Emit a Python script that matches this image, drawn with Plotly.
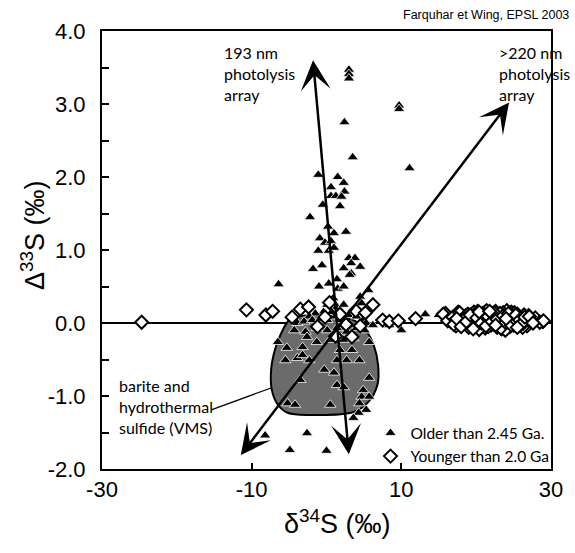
import plotly.graph_objects as go

# ---- sulfur isotope data (delta34S vs Delta33S, permil) ----
# Samples older than 2.45 Ga
OLDER_D34S = [
    3.0, 3.0, 3.0, 9.7, 9.7, 2.4, 11.1, 3.5,
    -1.1, 1.5, 0.6, 2.3, 2.4, 0.6, 1.25, 2.0, 1.8, -0.5, -2.2,
    0.2, 1.0, 2.6, -0.9, -0.2, 0.6, -1.1, 0.3, 1.0,
    3.0, 3.8, 3.3, -1.8, -0.6, 2.3, 4.5, 3.3,
    -6.4, -1.0, 0.3, 1.4, 1.5, 2.3, 3.1, 5.6, 4.5, 4.7, 0.9, 5.6,
    0.1, 1.4, 2.3, -0.4, 0.7, -1.5, -2.3, -3.9, -3.0, -1.9, -0.8, 0.1,
    1.2, 2.0, 2.9, 4.0, 4.9, 5.3, 6.2, -4.3, -2.8, -1.3, 0.1, 1.4,
    2.7, 4.0, 5.1, 5.7, -6.5, 0.5, 2.3, 3.6, -1.3, -2.6,
    -5.3, -3.2, -5.5, -3.9, -2.3, -3.2, -3.5, -0.3, 1.0, 1.4, 2.3,
    3.4, 1.8, 1.4, 2.7, 4.4, 5.7, 4.9, 4.7, 5.7, 4.4, 5.3, 4.3,
    -5.2, -4.2, 0.5,
    -8.2, -2.6, -4.9, 0.0, 3.6,
    8.4, 10.0, 13.2, 15.0, 18.1, 24.9,
    20.1, 21.3, 22.4, 23.2, 24.3, 25.3, 21.9, 23.8,
]
OLDER_CAP33S = [
    3.47, 3.41, 3.35, 2.98, 2.93, 2.75, 2.12, 2.27,
    2.03, 2.00, 1.86, 1.92, 1.80, 1.74, 1.74, 1.73, 1.60, 1.62, 1.45,
    1.32, 1.23, 1.25, 1.16, 1.10, 1.12, 0.99, 0.99, 1.03,
    0.89, 0.89, 0.82, 0.74, 0.79, 0.75, 0.77, 0.68,
    0.53, 0.50, 0.54, 0.60, 0.47, 0.50, 0.66, 0.45, 0.36, 0.27, 0.34, 0.22,
    0.25, 0.22, 0.25, 0.15, 0.15, 0.13, 0.09, 0.00, 0.02, 0.04, 0.06, 0.04,
    0.09, 0.04, 0.11, 0.09, 0.04, 0.00, -0.03, -0.10, -0.12, -0.07, -0.10, -0.07,
    -0.12, -0.07, -0.10, -0.26, -0.26, -0.23, -0.23, -0.21, -0.26, -0.19,
    -0.34, -0.33, -0.51, -0.48, -0.51, -0.44, -0.78, -0.64, -0.68, -0.85, -0.88,
    -0.37, -0.37, -0.51, -0.51, -0.51, -0.75, -0.92, -1.01, -1.01, -1.10, -1.19, -1.23,
    -1.10, -1.12, -1.12,
    -1.54, -1.51, -1.74, -1.75, -1.30,
    -0.03, -0.10, 0.12, 0.11, 0.13, -0.09,
    0.05, 0.08, 0.02, 0.10, 0.04, 0.07, -0.04, -0.02,
]

# Samples younger than 2.0 Ga
YOUNGER_D34S = [
    -24.7, -10.7, -8.1, -7.2, -3.5, -4.6, -2.4, -1.2, 0.4, 1.8, 2.6, 3.9,
    4.5, 5.2, 3.4, 1.2, -0.2, 6.2, 7.5, 8.4, 9.6, 11.9,
    15.9, 16.6, 17.6, 19.4, 19.8, 21.2, 24.7, 26.0, 27.3, 28.9,
    15.6, 16.2, 16.9, 17.3, 17.8, 18.2, 18.6, 19.0, 19.3, 19.7, 20.0, 20.3,
    20.6, 20.9, 21.2, 21.5, 21.8, 22.0, 22.3, 22.6, 22.9, 23.1, 23.4, 23.7,
    24.0, 24.2, 24.5, 24.8, 25.1, 25.4, 25.7, 26.0, 26.4, 26.8, 27.3, 27.9,
    28.5, 29.0,
    17.0, 18.9, 20.4, 21.0, 21.6, 22.2, 22.8, 23.3, 23.9, 24.4, 25.0, 25.6,
    26.2, 24.1, 21.4,
    19.1, 19.9, 20.8, 21.7, 22.5, 23.0, 23.6, 24.6, 25.2, 25.9, 26.6, 20.2,
    22.1, 23.5,
    19.5, 20.5, 21.1, 21.9, 22.7, 23.2, 23.8, 24.3, 25.5, 26.3, 18.4, 27.0,
    17.4, 18.0, 18.7, 19.2, 19.6, 20.1, 20.7, 21.0, 21.3, 21.6, 22.1, 22.4,
    22.8, 23.3, 23.6, 23.9, 24.3, 24.7, 25.0, 25.3, 25.8, 26.1, 26.5, 27.1,
    27.6, 20.4, 22.6, 24.0, 25.5, 21.8,
]
YOUNGER_CAP33S = [
    0.01, 0.18, 0.11, 0.16, 0.19, 0.08, 0.22, -0.05, 0.28, 0.12, -0.02, 0.17,
    -0.04, 0.14, -0.19, -0.18, 0.08, 0.25, 0.04, 0.02, 0.03, 0.06,
    0.13, 0.02, 0.15, -0.03, 0.13, 0.15, 0.15, 0.02, 0.04, 0.02,
    0.12, 0.03, 0.08, -0.04, 0.14, 0.01, 0.10, -0.06, 0.06, 0.15, -0.02, 0.09,
    0.04, 0.13, -0.07, 0.07, 0.11, -0.03, 0.05, 0.16, 0.00, 0.08, -0.08, 0.12,
    0.03, 0.10, -0.05, 0.06, 0.14, -0.01, 0.09, 0.02, 0.11, -0.04, 0.05, 0.07,
    0.01, 0.03,
    -0.02, 0.12, -0.09, 0.02, -0.05, 0.10, -0.06, 0.04, -0.10, 0.08, -0.03, 0.05,
    -0.06, 0.17, 0.17,
    0.07, 0.00, 0.11, 0.03, 0.09, -0.02, 0.14, 0.01, 0.10, -0.02, 0.08, 0.16,
    0.12, 0.05,
    0.04, 0.06, -0.01, 0.12, 0.03, 0.13, 0.01, 0.06, 0.12, 0.00, 0.05, 0.10,
    0.06, -0.05, 0.02, 0.11, -0.08, 0.07, 0.00, 0.12, -0.04, 0.09, 0.02, 0.14,
    0.05, -0.07, 0.10, 0.01, 0.13, -0.03, 0.07, 0.11, 0.04, -0.01, 0.08, 0.09,
    0.00, 0.15, -0.03, 0.06, -0.06, 0.16,
]

# Outline of the barite / hydrothermal sulfide (VMS) field
VMS_FIELD_X = [-4.9, -6.1, -6.9, -7.4, -7.3, -6.5, -5.2, -2.2, 3.6, 5.6, 6.8,
               6.9, 6.3, 5.1, 3.4, 0.0, -3.2, -4.9]
VMS_FIELD_Y = [0.05, -0.15, -0.37, -0.64, -0.92, -1.12, -1.23, -1.26, -1.22,
               -1.08, -0.85, -0.58, -0.30, -0.08, 0.05, 0.10, 0.10, 0.05]

# Photolysis arrays (start, end) and the label leader line
ARRAY_193_X = [3.0, -1.8]
ARRAY_193_Y = [-1.82, 3.60]
ARRAY_220_X = [-11.6, 24.4]
ARRAY_220_Y = [-1.83, 3.02]
VMS_LEADER_X = [-15.4, -7.4]
VMS_LEADER_Y = [-1.19, -0.89]

X_TICKS = [-30, -10, 10, 30]
X_TICK_TEXT = ["-30", "-10", "10", "30"]
Y_TICKS = [-2.0, -1.5, -1.0, -0.5, 0.0, 0.5, 1.0, 1.5, 2.0, 2.5, 3.0, 3.5, 4.0]
Y_TICK_TEXT = ["-2.0", "", "-1.0", "", "0.0", "", "1.0", "", "2.0", "", "3.0", "", "4.0"]

AXIS_FONT = "Liberation Sans, Arial, sans-serif"
LABEL_FONT = "Lato, Open Sans, sans-serif"

fig = go.Figure()

fig.add_trace(go.Scatter(
    x=VMS_FIELD_X, y=VMS_FIELD_Y, mode="lines", fill="toself",
    fillcolor="#6b6b6b", line=dict(color="black", width=2, shape="spline"),
    showlegend=False, hoverinfo="skip",
))

fig.add_trace(go.Scatter(
    x=OLDER_D34S, y=OLDER_CAP33S, mode="markers", name="Older than 2.45 Ga.",
    marker=dict(symbol="triangle-up", size=10, color="black",
                line=dict(color="white", width=0.8)),
))

fig.add_trace(go.Scatter(
    x=YOUNGER_D34S, y=YOUNGER_CAP33S, mode="markers", name="Younger than 2.0 Ga",
    marker=dict(symbol="diamond", size=10, color="white",
                line=dict(color="black", width=2.0)),
))

# Leader line from the VMS label to the field
fig.add_shape(type="line", xref="x", yref="y",
              x0=VMS_LEADER_X[0], y0=VMS_LEADER_Y[0],
              x1=VMS_LEADER_X[1], y1=VMS_LEADER_Y[1],
              line=dict(color="black", width=1.2))

# Double-headed photolysis arrays
for ax_, ay_ in ((ARRAY_193_X, ARRAY_193_Y), (ARRAY_220_X, ARRAY_220_Y)):
    fig.add_annotation(
        x=ax_[1], y=ay_[1], ax=ax_[0], ay=ay_[0],
        xref="x", yref="y", axref="x", ayref="y", text="",
        showarrow=True, arrowside="end+start",
        arrowhead=3, startarrowhead=3, arrowsize=2.0, startarrowsize=2.0,
        arrowwidth=2.5, arrowcolor="black", standoff=0, startstandoff=0,
    )

label_style = dict(xref="paper", yref="paper", showarrow=False, align="left",
                   xanchor="left", yanchor="middle",
                   font=dict(family=LABEL_FONT, size=16, color="black"))
fig.add_annotation(x=0.268, y=0.904, text="193 nm<br>photolysis<br>array", **label_style)
fig.add_annotation(x=0.880, y=0.904, text=">220 nm<br>photolysis<br>array", **label_style)
fig.add_annotation(x=0.033, y=0.142, text="barite and<br>hydrothermal<br>sulfide (VMS)", **label_style)

fig.add_annotation(x=0.666, y=1.0365, xref="paper", yref="paper", showarrow=False,
                   xanchor="left", yanchor="middle", text="Farquhar et Wing, EPSL 2003",
                   font=dict(family="Liberation Sans Narrow, Liberation Sans, Arial", size=12.5,
                             color="black"))

# Axis titles
fig.add_annotation(x=0.525, y=-0.121, xref="paper", yref="paper", showarrow=False,
                   xanchor="center", yanchor="middle",
                   text="δ<sup>34</sup>S (‰)",
                   font=dict(family=AXIS_FONT, size=27, color="black"))
fig.add_annotation(x=-0.155, y=0.535, xref="paper", yref="paper", showarrow=False,
                   xanchor="center", yanchor="middle",
                   text="Δ<sup>33</sup>S (‰)", textangle=-90,
                   font=dict(family=AXIS_FONT, size=27, color="black"))

fig.update_xaxes(
    range=[-30, 30], tickmode="array", tickvals=X_TICKS, ticktext=X_TICK_TEXT,
    ticks="inside", ticklen=6, tickwidth=1.5, tickcolor="black",
    showline=True, linecolor="black", linewidth=2, mirror=True,
    showgrid=False, zeroline=False, ticklabelstandoff=0,
    tickfont=dict(family=AXIS_FONT, size=22, color="black"),
)
fig.update_yaxes(
    range=[-2, 4], tickmode="array", tickvals=Y_TICKS, ticktext=Y_TICK_TEXT,
    ticks="inside", ticklen=7, tickwidth=1.5, tickcolor="black",
    showline=True, linecolor="black", linewidth=2, mirror=True,
    showgrid=False, zeroline=True, zerolinecolor="black", zerolinewidth=2,
    ticklabelstandoff=10,
    tickfont=dict(family=AXIS_FONT, size=22, color="black"),
)

fig.update_layout(
    width=575, height=553,
    margin=dict(l=102, r=18, t=31, b=84),
    paper_bgcolor="white", plot_bgcolor="white",
    legend=dict(x=0.598, y=-0.010, xanchor="left", yanchor="bottom",
                bgcolor="rgba(0,0,0,0)", borderwidth=0, tracegroupgap=0,
                itemwidth=30,
                font=dict(family=LABEL_FONT, size=15.5, color="black")),
)

fig.write_html("out.html")
